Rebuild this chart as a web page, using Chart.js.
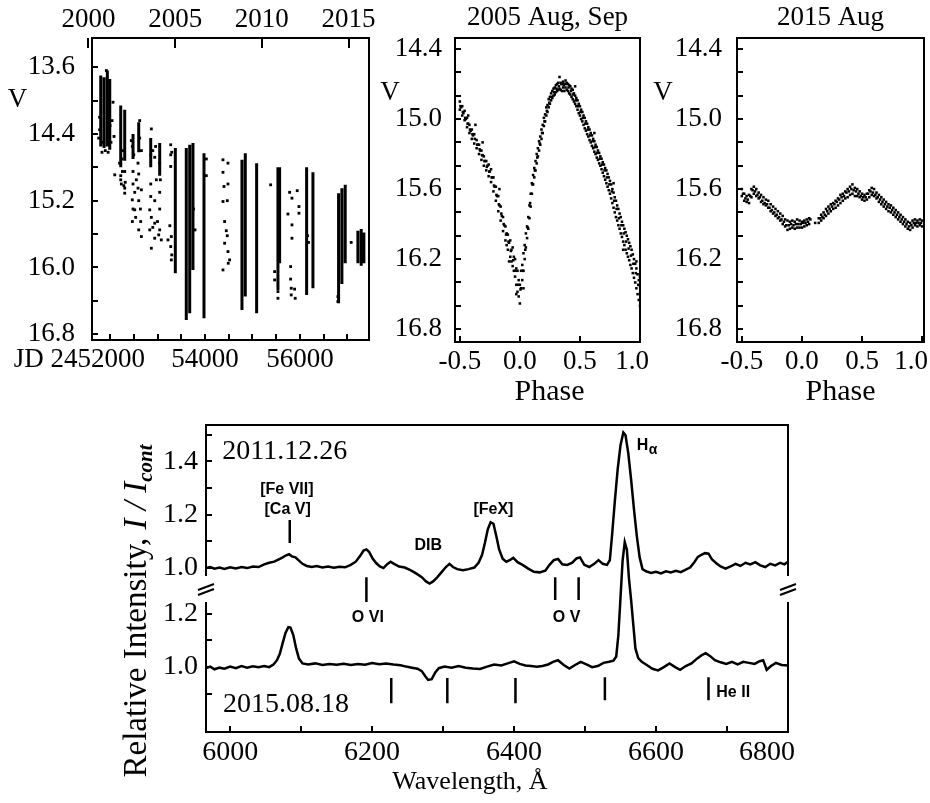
<!DOCTYPE html>
<html><head><meta charset="utf-8">
<script src="https://cdn.jsdelivr.net/npm/chart.js@4.4.1/dist/chart.umd.min.js"></script>
<style>
html,body{margin:0;background:#fff}
#fig{position:relative;width:930px;height:803px;overflow:hidden}
canvas{position:absolute}
</style></head><body>
<div id="fig">
<canvas id="gA" width="380" height="400" style="left:0;top:0;width:380px;height:400px"></canvas>
<canvas id="gB" width="270" height="400" style="left:380px;top:0;width:270px;height:400px"></canvas>
<canvas id="gC" width="280" height="400" style="left:650px;top:0;width:280px;height:400px"></canvas>
<canvas id="gD" width="930" height="393" style="left:0;top:410px;width:930px;height:393px"></canvas>
</div>
<script>
/* Courbe de lumière, courbes de phase et spectres — Chart.js */
var SERIF = '"Liberation Serif", "Times New Roman", serif';
var SANS = '"Liberation Sans", Arial, sans-serif';

// --- Courbe de lumière : JD - 2400000, V
var jdMin = 51620, jdMax = 57455;
var jdTicks = [52000, 52500, 53000, 53500, 54000, 54500, 55000, 55500, 56000, 56500, 57000];
var jdLabels = [54000, 56000];
var annees = [2000, 2005, 2010, 2015];
var anneesJD = [51544.5, 53371.5, 55197.5, 57023.5];
var vTicksA = [13.6, 14.0, 14.4, 14.8, 15.2, 15.6, 16.0, 16.4, 16.8];
var vLabelsA = [13.6, 14.4, 15.2, 16.0, 16.8];
// colonnes denses : [JD, V haut, V bas]
var saisons = [
  [51804, 13.70, 14.55], [51874, 13.72, 14.57], [51943, 13.64, 14.55], [51994, 13.74, 14.59],
  [52225, 14.06, 14.80], [52309, 14.11, 14.72], [52484, 14.40, 14.70], [52604, 14.26, 14.62],
  [52857, 14.45, 14.80], [53046, 14.51, 14.90], [53375, 14.57, 16.07], [53606, 14.57, 16.63],
  [53678, 14.53, 16.55], [53747, 14.51, 16.03], [53979, 14.63, 16.61], [54779, 14.71, 16.51],
  [54849, 14.63, 16.35], [55088, 14.75, 16.55], [55537, 14.80, 16.27], [55572, 14.80, 15.95],
  [56141, 14.80, 16.33], [56274, 14.86, 16.25], [56814, 15.11, 16.43], [56884, 15.05, 16.20],
  [56954, 15.01, 15.95], [57221, 15.56, 15.95], [57291, 15.54, 15.98], [57347, 15.58, 15.95]
];
// points isolés : [JD, V]
var pointsA = [
  [51922, 13.64], [52063, 14.02], [52042, 14.24], [52084, 14.43], [51780, 14.35], [51830, 14.62], [51960, 14.62], [52020, 14.50], [51900, 14.60],
  [51780, 14.20], [51760, 14.45], [51850, 14.50], [52000, 14.30],
  [52099, 14.89], [52238, 15.00], [52309, 15.11], [52225, 14.90], [52260, 14.85], [52309, 14.85], [52290, 15.02],
  [52225, 14.95], [52250, 14.70], [52280, 14.60], [52320, 14.98], [52309, 15.05], [52200, 14.75],
  [52469, 15.19], [52520, 15.31], [52646, 15.45], [52660, 15.63], [52625, 14.24], [52448, 14.48], [52589, 14.75], [52554, 14.95],
  [52660, 15.07], [52484, 14.85], [52484, 15.00], [52604, 15.20], [52604, 14.88], [52520, 15.10],
  [52469, 14.55], [52484, 15.30], [52500, 14.65], [52540, 15.40], [52589, 15.05], [52604, 15.55], [52625, 14.45], [52640, 15.30],
  [52470, 15.45], [52660, 14.60],
  [52870, 14.34], [52975, 14.95], [52836, 15.31], [52941, 15.47], [53025, 15.61], [52870, 15.77], [53080, 15.67], [52941, 14.68],
  [53046, 14.75], [52857, 15.00], [52857, 15.15], [52900, 15.52], [53046, 15.10], [53046, 15.30], [52941, 15.20],
  [52857, 14.65], [52870, 15.40], [52900, 14.60], [52941, 15.65], [52960, 14.55], [53000, 15.45], [53046, 15.55], [53060, 14.95], [52836, 15.55],
  [53278, 14.53], [53278, 14.79], [53291, 15.63], [53291, 15.91], [53221, 15.67], [53278, 15.75], [53300, 15.85],
  [53278, 14.65], [53260, 15.50], [53300, 14.62],
  [53760, 15.30], [53790, 15.55], [54028, 14.70], [54028, 14.90],
  [54379, 14.71], [54379, 14.86], [54400, 15.03], [54379, 15.21], [54414, 15.45], [54449, 15.56], [54414, 15.71], [54484, 15.81],
  [54519, 15.91], [54379, 16.03], [54484, 14.75], [54484, 15.00], [54470, 15.20], [54470, 15.62], [54490, 15.95],
  [55383, 15.01], [55537, 16.29], [55537, 16.37], [55467, 16.15], [55467, 16.05],
  [55783, 15.10], [55943, 15.08], [55832, 15.17], [55979, 15.27], [55979, 15.35], [55747, 15.36], [55832, 15.49], [55832, 15.65],
  [55804, 15.99], [55804, 16.14], [55817, 16.25], [55888, 16.26], [55817, 16.33], [55901, 16.37],
  [56160, 15.62], [56180, 15.70], [57080, 15.70], [56800, 16.41], [56800, 16.35]
];

// --- Courbes de phase
var phaseTicks = [-0.5, 0, 0.5, 1.0];
var vTicksP = [14.4, 14.6, 14.8, 15.0, 15.2, 15.4, 15.6, 15.8, 16.0, 16.2, 16.4, 16.6, 16.8];
var vLabelsP = [14.4, 15.0, 15.6, 16.2, 16.8];
var courbe2005 = [
  [-0.50, 14.85], [-0.50, 14.92], [-0.49, 14.90], [-0.48, 14.89], [-0.48, 14.97], [-0.47, 14.95], [-0.46, 14.93], [-0.46, 15.01],
  [-0.45, 15.00], [-0.44, 14.99], [-0.44, 15.07], [-0.43, 15.04], [-0.43, 14.97], [-0.42, 15.05], [-0.42, 15.12], [-0.41, 15.10],
  [-0.40, 15.09], [-0.40, 15.17], [-0.39, 15.14], [-0.38, 15.13], [-0.38, 15.21], [-0.37, 15.05], [-0.36, 15.18], [-0.36, 15.25],
  [-0.35, 15.22], [-0.34, 15.22], [-0.34, 15.30], [-0.33, 15.27], [-0.32, 15.27], [-0.32, 15.35], [-0.31, 15.31], [-0.30, 15.32],
  [-0.30, 15.40], [-0.29, 15.36], [-0.28, 15.36], [-0.28, 15.44], [-0.27, 15.40], [-0.26, 15.39], [-0.26, 15.49], [-0.25, 15.45],
  [-0.24, 15.43], [-0.24, 15.54], [-0.23, 15.50], [-0.22, 15.50], [-0.22, 15.62], [-0.21, 15.58], [-0.20, 15.58], [-0.20, 15.70],
  [-0.19, 15.66], [-0.18, 15.66], [-0.18, 15.79], [-0.17, 15.74], [-0.16, 15.75], [-0.16, 15.87], [-0.15, 15.83], [-0.14, 15.84],
  [-0.14, 15.96], [-0.13, 15.91], [-0.12, 15.92], [-0.12, 16.04], [-0.11, 15.98], [-0.11, 16.08], [-0.10, 15.99], [-0.10, 16.12],
  [-0.09, 16.06], [-0.08, 16.04], [-0.08, 16.18], [-0.07, 16.12], [-0.07, 16.22], [-0.06, 16.10], [-0.06, 16.26], [-0.05, 16.18],
  [-0.05, 16.30], [-0.04, 16.20], [-0.04, 16.35], [-0.03, 16.28], [-0.03, 16.42], [-0.02, 16.30], [-0.02, 16.48], [-0.01, 16.38],
  [-0.01, 16.52], [0.00, 16.42], [0.00, 16.58], [0.01, 16.30], [0.01, 16.45], [0.02, 16.25], [0.02, 16.38], [0.03, 16.15],
  [0.03, 16.30], [0.04, 16.08], [0.04, 16.20], [0.05, 15.98], [0.05, 16.10], [0.06, 15.92], [0.06, 16.02], [0.07, 15.84],
  [0.07, 15.94], [0.08, 15.74], [0.08, 15.85], [0.09, 15.64], [0.09, 15.75], [0.10, 15.55], [0.10, 15.64], [0.11, 15.48],
  [0.11, 15.56], [0.12, 15.42], [0.12, 15.50], [0.13, 15.36], [0.13, 15.44], [0.14, 15.30], [0.14, 15.38], [0.15, 15.25],
  [0.15, 15.32], [0.16, 15.19], [0.16, 15.27], [0.17, 15.15], [0.17, 15.22], [0.18, 15.09], [0.18, 15.17], [0.19, 15.05],
  [0.19, 15.12], [0.20, 14.99], [0.20, 15.06], [0.21, 14.96], [0.21, 15.02], [0.22, 14.90], [0.22, 14.97], [0.23, 14.88],
  [0.23, 14.94], [0.24, 14.83], [0.24, 14.90], [0.25, 14.81], [0.25, 14.87], [0.26, 14.78], [0.26, 14.84], [0.27, 14.76],
  [0.27, 14.82], [0.28, 14.74], [0.28, 14.80], [0.29, 14.73], [0.29, 14.79], [0.30, 14.71], [0.30, 14.77], [0.31, 14.70],
  [0.31, 14.76], [0.32, 14.69], [0.32, 14.75], [0.33, 14.64], [0.33, 14.74], [0.34, 14.69], [0.34, 14.75], [0.35, 14.70],
  [0.35, 14.76], [0.36, 14.68], [0.36, 14.73], [0.37, 14.70], [0.37, 14.76], [0.38, 14.67], [0.38, 14.73], [0.39, 14.69],
  [0.39, 14.75], [0.40, 14.70], [0.40, 14.76], [0.41, 14.71], [0.41, 14.78], [0.42, 14.72], [0.42, 14.79], [0.43, 14.74],
  [0.43, 14.81], [0.44, 14.75], [0.44, 14.83], [0.45, 14.78], [0.45, 14.85], [0.46, 14.80], [0.46, 14.87], [0.47, 14.82],
  [0.47, 14.89], [0.48, 14.84], [0.48, 14.92], [0.49, 14.87], [0.49, 14.95], [0.50, 14.89], [0.50, 14.97], [0.51, 14.92],
  [0.51, 15.00], [0.52, 14.94], [0.52, 15.02], [0.53, 14.97], [0.53, 15.05], [0.54, 14.99], [0.54, 15.08], [0.55, 15.02],
  [0.55, 15.10], [0.56, 15.04], [0.56, 15.13], [0.57, 15.07], [0.57, 15.15], [0.58, 15.09], [0.58, 15.18], [0.59, 15.12],
  [0.59, 15.20], [0.60, 15.14], [0.60, 15.23], [0.61, 15.17], [0.61, 15.25], [0.62, 15.19], [0.62, 15.28], [0.63, 15.22],
  [0.63, 15.30], [0.64, 15.24], [0.64, 15.33], [0.65, 15.27], [0.65, 15.35], [0.66, 15.29], [0.66, 15.38], [0.67, 15.32],
  [0.67, 15.40], [0.68, 15.34], [0.68, 15.43], [0.69, 15.37], [0.69, 15.46], [0.70, 15.39], [0.70, 15.49], [0.71, 15.42],
  [0.71, 15.52], [0.72, 15.44], [0.72, 15.55], [0.73, 15.47], [0.73, 15.58], [0.74, 15.50], [0.74, 15.61], [0.75, 15.53],
  [0.75, 15.64], [0.76, 15.56], [0.76, 15.68], [0.77, 15.60], [0.77, 15.72], [0.78, 15.63], [0.78, 15.76], [0.79, 15.67],
  [0.79, 15.80], [0.80, 15.70], [0.80, 15.84], [0.81, 15.74], [0.81, 15.87], [0.82, 15.77], [0.82, 15.91], [0.83, 15.81],
  [0.83, 15.94], [0.84, 15.84], [0.84, 15.98], [0.85, 15.88], [0.85, 16.01], [0.86, 15.91], [0.86, 16.05], [0.87, 15.94],
  [0.87, 16.08], [0.88, 15.97], [0.88, 16.12], [0.89, 16.00], [0.89, 16.15], [0.90, 16.03], [0.90, 16.18], [0.91, 16.06],
  [0.91, 16.21], [0.92, 16.09], [0.92, 16.25], [0.93, 16.12], [0.93, 16.28], [0.94, 16.16], [0.94, 16.32], [0.95, 16.20],
  [0.95, 16.36], [0.96, 16.24], [0.96, 16.40], [0.97, 16.28], [0.97, 16.45], [0.98, 16.33], [0.98, 16.50], [0.99, 16.38],
  [0.99, 16.55], [1.00, 16.43], [1.00, 16.60]
];
// milieu de la bande et points écartés (2005)
var milieu2005 = [
  [-0.495, 14.89], [-0.475, 14.94], [-0.455, 14.99], [-0.435, 15.04], [-0.415, 15.09], [-0.395, 15.13], [-0.375, 15.17], [-0.355, 15.22],
  [-0.335, 15.26], [-0.315, 15.31], [-0.295, 15.36], [-0.275, 15.41], [-0.255, 15.45], [-0.235, 15.50], [-0.215, 15.57], [-0.195, 15.65],
  [-0.175, 15.73], [-0.155, 15.81], [-0.135, 15.90], [-0.115, 15.99], [-0.095, 16.05], [-0.075, 16.13], [-0.055, 16.21], [-0.035, 16.30],
  [-0.015, 16.42], [0.005, 16.46], [0.025, 16.30], [0.045, 16.12], [0.065, 15.93], [0.085, 15.72], [0.105, 15.56], [0.125, 15.44],
  [0.145, 15.33], [0.165, 15.21], [0.185, 15.12], [0.205, 15.02], [0.225, 14.93], [0.245, 14.86], [0.265, 14.81], [0.285, 14.77],
  [0.305, 14.74], [0.325, 14.72], [0.345, 14.70], [0.365, 14.71], [0.385, 14.70], [0.405, 14.73], [0.425, 14.76], [0.445, 14.79],
  [0.465, 14.84], [0.485, 14.89], [0.505, 14.94], [0.525, 14.99], [0.545, 15.04], [0.565, 15.09], [0.585, 15.14], [0.605, 15.19],
  [0.625, 15.24], [0.645, 15.29], [0.665, 15.34], [0.685, 15.39], [0.705, 15.44], [0.725, 15.50], [0.745, 15.56], [0.765, 15.62],
  [0.785, 15.70], [0.805, 15.77], [0.825, 15.85], [0.845, 15.91], [0.865, 15.98], [0.885, 16.05], [0.905, 16.11], [0.925, 16.17],
  [0.945, 16.24], [0.965, 16.32], [0.985, 16.42],
  [-0.31, 15.20], [-0.17, 15.60], [-0.09, 16.22], [-0.03, 16.50], [0.03, 16.45], [0.46, 14.72], [0.62, 15.12], [0.78, 15.55],
  [0.86, 16.12], [0.97, 16.22], [1.00, 16.35]
];
var courbe2015 = [
  [-0.50, 15.60], [-0.50, 15.66], [-0.48, 15.64], [-0.48, 15.70], [-0.46, 15.66], [-0.46, 15.71], [-0.44, 15.65], [-0.44, 15.72],
  [-0.42, 15.60], [-0.42, 15.67], [-0.40, 15.58], [-0.40, 15.64], [-0.38, 15.60], [-0.38, 15.66], [-0.36, 15.63], [-0.36, 15.68],
  [-0.34, 15.65], [-0.34, 15.71], [-0.32, 15.67], [-0.32, 15.73], [-0.30, 15.69], [-0.30, 15.74], [-0.28, 15.70], [-0.28, 15.76],
  [-0.26, 15.73], [-0.26, 15.79], [-0.24, 15.75], [-0.24, 15.81], [-0.22, 15.77], [-0.22, 15.83], [-0.20, 15.79], [-0.20, 15.85],
  [-0.18, 15.81], [-0.18, 15.87], [-0.16, 15.83], [-0.16, 15.90], [-0.14, 15.86], [-0.14, 15.92], [-0.12, 15.87], [-0.12, 15.95],
  [-0.10, 15.88], [-0.10, 15.94], [-0.08, 15.87], [-0.08, 15.93], [-0.06, 15.88], [-0.06, 15.94], [-0.04, 15.86], [-0.04, 15.93],
  [-0.02, 15.87], [-0.02, 15.93], [0.00, 15.88], [0.00, 15.93], [0.02, 15.87], [0.02, 15.92], [0.04, 15.86], [0.04, 15.91],
  [0.06, 15.85], [0.06, 15.90], [0.11, 15.89], [0.14, 15.85], [0.14, 15.89], [0.16, 15.82], [0.16, 15.87], [0.18, 15.80],
  [0.18, 15.85], [0.20, 15.77], [0.20, 15.83], [0.22, 15.75], [0.22, 15.81], [0.24, 15.73], [0.24, 15.79], [0.26, 15.72],
  [0.26, 15.77], [0.28, 15.70], [0.28, 15.76], [0.30, 15.68], [0.30, 15.74], [0.32, 15.65], [0.32, 15.72], [0.34, 15.64],
  [0.34, 15.70], [0.36, 15.62], [0.36, 15.68], [0.38, 15.60], [0.38, 15.67], [0.40, 15.58], [0.40, 15.65], [0.42, 15.56],
  [0.42, 15.64], [0.44, 15.59], [0.44, 15.66], [0.46, 15.60], [0.46, 15.66], [0.48, 15.62], [0.48, 15.67], [0.50, 15.64],
  [0.50, 15.69], [0.52, 15.65], [0.52, 15.70], [0.54, 15.64], [0.54, 15.69], [0.56, 15.61], [0.56, 15.67], [0.58, 15.59],
  [0.58, 15.65], [0.60, 15.60], [0.60, 15.66], [0.62, 15.63], [0.62, 15.68], [0.64, 15.65], [0.64, 15.71], [0.66, 15.67],
  [0.66, 15.73], [0.68, 15.69], [0.68, 15.75], [0.70, 15.71], [0.70, 15.77], [0.72, 15.73], [0.72, 15.79], [0.74, 15.74],
  [0.74, 15.80], [0.76, 15.76], [0.76, 15.82], [0.78, 15.78], [0.78, 15.84], [0.80, 15.80], [0.80, 15.86], [0.82, 15.82],
  [0.82, 15.88], [0.84, 15.84], [0.84, 15.90], [0.86, 15.86], [0.86, 15.92], [0.88, 15.88], [0.88, 15.94], [0.90, 15.89],
  [0.90, 15.95], [0.92, 15.87], [0.92, 15.93], [0.94, 15.86], [0.94, 15.91], [0.96, 15.87], [0.96, 15.92], [0.98, 15.86],
  [0.98, 15.91], [1.00, 15.87], [1.00, 15.92]
];
var milieu2015 = [
  [-0.49, 15.64], [-0.47, 15.68], [-0.45, 15.69], [-0.43, 15.66], [-0.41, 15.61], [-0.39, 15.62], [-0.37, 15.65], [-0.35, 15.67],
  [-0.33, 15.70], [-0.31, 15.72], [-0.29, 15.73], [-0.27, 15.76], [-0.25, 15.78], [-0.23, 15.80], [-0.21, 15.82], [-0.19, 15.84],
  [-0.17, 15.86], [-0.15, 15.88], [-0.13, 15.91], [-0.11, 15.91], [-0.09, 15.90], [-0.07, 15.91], [-0.05, 15.90], [-0.03, 15.90],
  [-0.01, 15.90], [0.01, 15.89], [0.03, 15.89], [0.05, 15.88], [0.07, 15.86], [0.15, 15.85], [0.17, 15.84], [0.19, 15.82],
  [0.21, 15.79], [0.23, 15.77], [0.25, 15.75], [0.27, 15.73], [0.29, 15.71], [0.31, 15.69], [0.33, 15.67], [0.35, 15.66],
  [0.37, 15.63], [0.39, 15.62], [0.41, 15.60], [0.43, 15.61], [0.45, 15.62], [0.47, 15.64], [0.49, 15.66], [0.51, 15.67],
  [0.53, 15.67], [0.55, 15.64], [0.57, 15.62], [0.59, 15.63], [0.61, 15.65], [0.63, 15.67], [0.65, 15.69], [0.67, 15.71],
  [0.69, 15.73], [0.71, 15.75], [0.73, 15.76], [0.75, 15.78], [0.77, 15.80], [0.79, 15.82], [0.81, 15.84], [0.83, 15.86],
  [0.85, 15.88], [0.87, 15.90], [0.89, 15.92], [0.91, 15.91], [0.93, 15.89], [0.95, 15.89], [0.97, 15.89], [0.99, 15.89]
];

// --- Spectres : [longueur d'onde Å, I / Icont]
var DECALAGE = 0.371;          // décalage vertical du spectre 2011
var COUPURE = [1.244, 1.341];   // interruption de l'axe
var lamTicks = [6000, 6100, 6200, 6300, 6400, 6500, 6600, 6700];
var lamLabels = [6000, 6200, 6400, 6600];
var iTicksBas = [0.9, 1.0, 1.1, 1.2];
var iLabelsBas = [1.0, 1.2];
var iTicksHaut = [1.0, 1.1, 1.2, 1.3, 1.4, 1.5];
var iLabelsHaut = [1.0, 1.2, 1.4];
var spec2011 = [
  [5966, 1.000], [5972, 1.004], [5978, 0.998], [5985, 1.002], [5992, 0.997], [6000, 1.003], [6008, 0.999], [6016, 1.004],
  [6024, 1.000], [6032, 1.006], [6040, 1.004], [6048, 1.014], [6055, 1.020], [6062, 1.024], [6068, 1.032], [6074, 1.040],
  [6079, 1.048], [6083, 1.052], [6087, 1.044], [6092, 1.040], [6097, 1.028], [6102, 1.016], [6108, 1.008], [6115, 1.004],
  [6122, 1.008], [6130, 1.002], [6138, 1.006], [6146, 1.001], [6154, 1.005], [6162, 1.003], [6170, 1.012], [6177, 1.024],
  [6183, 1.045], [6188, 1.066], [6192, 1.070], [6196, 1.060], [6201, 1.035], [6206, 1.018], [6211, 1.006], [6216, 1.000],
  [6221, 1.014], [6226, 1.024], [6231, 1.016], [6238, 1.006], [6246, 1.002], [6254, 0.992], [6262, 0.980], [6270, 0.966],
  [6276, 0.950], [6281, 0.942], [6286, 0.950], [6292, 0.966], [6298, 0.985], [6304, 1.004], [6309, 1.016], [6314, 1.004],
  [6320, 0.996], [6328, 0.992], [6336, 0.996], [6344, 1.002], [6350, 1.020], [6355, 1.050], [6359, 1.095], [6363, 1.145],
  [6367, 1.172], [6371, 1.166], [6375, 1.120], [6379, 1.070], [6384, 1.035], [6389, 1.024], [6394, 1.030], [6399, 1.038],
  [6405, 1.022], [6412, 1.012], [6420, 0.998], [6428, 0.986], [6436, 0.984], [6444, 0.990], [6450, 1.012], [6456, 1.030],
  [6462, 1.034], [6468, 1.014], [6475, 1.012], [6482, 1.020], [6488, 1.036], [6493, 1.040], [6499, 1.012], [6506, 1.004],
  [6513, 1.016], [6519, 1.030], [6525, 1.016], [6531, 1.012], [6535, 1.030], [6538, 1.120], [6542, 1.250], [6546, 1.370],
  [6550, 1.460], [6554, 1.508], [6557, 1.498], [6561, 1.430], [6565, 1.330], [6569, 1.220], [6573, 1.120], [6577, 1.040],
  [6581, 0.996], [6586, 0.988], [6593, 0.982], [6600, 0.986], [6607, 0.980], [6614, 0.988], [6621, 0.984], [6628, 0.990],
  [6635, 0.985], [6642, 0.994], [6648, 1.002], [6654, 1.022], [6659, 1.042], [6664, 1.050], [6669, 1.056], [6674, 1.054],
  [6679, 1.032], [6685, 1.018], [6691, 1.006], [6698, 0.998], [6705, 1.006], [6712, 1.016], [6719, 1.008], [6726, 1.020],
  [6733, 1.014], [6740, 1.022], [6747, 1.010], [6754, 1.004], [6761, 1.016], [6768, 1.010], [6775, 1.020], [6781, 1.014],
  [6786, 1.024]
];
var spec2015 = [
  [5966, 0.996], [5972, 1.002], [5978, 0.992], [5985, 0.998], [5992, 0.994], [6000, 1.002], [6008, 0.996], [6016, 1.004],
  [6024, 0.998], [6032, 1.003], [6040, 1.000], [6048, 1.004], [6055, 1.000], [6061, 1.010], [6066, 1.026], [6070, 1.050],
  [6074, 1.090], [6078, 1.128], [6082, 1.150], [6085, 1.148], [6089, 1.120], [6093, 1.070], [6097, 1.032], [6102, 1.014],
  [6110, 1.010], [6120, 1.014], [6130, 1.008], [6140, 1.012], [6150, 1.009], [6160, 1.013], [6170, 1.008], [6180, 1.012],
  [6190, 1.009], [6200, 1.015], [6210, 1.011], [6220, 1.014], [6230, 1.010], [6240, 1.007], [6248, 1.002], [6256, 0.998],
  [6264, 0.994], [6270, 0.985], [6275, 0.966], [6279, 0.952], [6284, 0.955], [6289, 0.980], [6294, 0.996], [6302, 1.002],
  [6312, 0.998], [6322, 1.004], [6332, 0.998], [6342, 0.995], [6352, 0.993], [6362, 1.002], [6372, 1.010], [6382, 1.006],
  [6391, 1.014], [6400, 1.022], [6408, 1.012], [6416, 1.006], [6424, 1.004], [6432, 1.001], [6440, 1.004], [6448, 1.010],
  [6455, 1.020], [6462, 1.026], [6470, 1.008], [6478, 0.995], [6486, 1.008], [6494, 1.020], [6502, 1.010], [6510, 1.000],
  [6518, 1.004], [6526, 1.016], [6534, 1.020], [6540, 1.024], [6544, 1.040], [6547, 1.120], [6550, 1.260], [6553, 1.400],
  [6556, 1.468], [6559, 1.440], [6562, 1.330], [6565, 1.250], [6568, 1.160], [6571, 1.070], [6575, 1.034], [6580, 1.020],
  [6587, 1.008], [6595, 0.994], [6603, 0.988], [6611, 1.000], [6619, 1.014], [6627, 1.000], [6634, 0.990], [6642, 1.004],
  [6650, 1.014], [6657, 1.030], [6664, 1.044], [6670, 1.052], [6676, 1.042], [6683, 1.026], [6691, 1.018], [6699, 1.012],
  [6707, 1.020], [6715, 1.010], [6723, 1.020], [6731, 1.016], [6739, 1.012], [6746, 1.022], [6751, 1.026], [6756, 0.990],
  [6762, 1.004], [6769, 1.016], [6777, 1.008], [6786, 1.006]
];
// repères des raies : [Å, haut, bas] en coordonnées de l'axe
var raies = [
  [6084, 1.551, 1.465], [6192, 1.337, 1.244], [6458, 1.337, 1.251], [6491, 1.337, 1.251],
  [6227, 0.959, 0.865], [6306, 0.959, 0.865], [6402, 0.959, 0.865], [6528, 0.962, 0.876], [6674, 0.962, 0.876]
];
// étiquettes : [texte, Å, valeur d'axe, style, alignement]
var etiquettes = [
  ["2011.12.26", 5989, 1.806, "date", "left"], ["2015.08.18", 5990, 0.858, "date", "left"],
  ["[Fe VII]", 6080, 1.664, "gras", "center"], ["[Ca V]", 6081, 1.589, "gras", "center"],
  ["DIB", 6279, 1.457, "gras", "center"], ["[FeX]", 6371, 1.589, "gras", "center"],
  ["O VI", 6194, 1.184, "gras", "center"], ["O V", 6474, 1.184, "gras", "center"],
  ["He II", 6685, 0.906, "gras", "left"]
];

Chart.defaults.color = "#000";
Chart.defaults.font.family = SERIF;

function $(id) { return document.getElementById(id); }
function dans(liste, v) { return liste.some(function (w) { return Math.abs(w - v) < 1e-6; }); }
function xy(p) { return { x: p[0], y: p[1] }; }

function axe(pos, taille, min, max, valeurs, etiquette, fs, pad, tl, inverse) {
  return {
    type: "linear", position: pos, min: min, max: max, reverse: !!inverse,
    border: { display: false },
    grid: { display: true, drawOnChartArea: false, drawTicks: true, tickLength: tl, lineWidth: 2, color: "#000" },
    ticks: { color: "#000", font: { family: SERIF, size: fs }, padding: pad, autoSkip: false, maxRotation: 0, minRotation: 0,
      callback: function (v, i) { return etiquette(v, i); } },
    afterBuildTicks: function (s) { s.ticks = valeurs.map(function (v) { return { value: v }; }); },
    afterFit: function (s) {
      if (s.isHorizontal()) s.height = taille; else s.width = taille;
      s.paddingLeft = s.paddingRight = s.paddingTop = s.paddingBottom = 0;
    }
  };
}

function ecrire(ctx, t, x, y, police, align, base) {
  ctx.save(); ctx.font = police; ctx.fillStyle = "#000";
  ctx.textAlign = align || "center"; ctx.textBaseline = base || "middle";
  ctx.fillText(t, x, y); ctx.restore();
}
function cadre(ctx, a) {
  ctx.save(); ctx.strokeStyle = "#000"; ctx.lineWidth = 2;
  ctx.strokeRect(a.left, a.top, a.right - a.left, a.bottom - a.top); ctx.restore();
}
function base(pad) {
  return { responsive: false, animation: false, devicePixelRatio: 1, layout: { padding: pad },
    plugins: { legend: { display: false }, tooltip: { enabled: false } } };
}

// ---------- Courbe de lumière
(function () {
  var seg = [];
  saisons.forEach(function (s) { seg.push({ x: s[0], y: s[1] }, { x: s[0], y: s[2] }, { x: s[0], y: null }); });
  var o = base({ left: 0, top: 0, right: 11, bottom: 0 });
  o.scales = {
    x: axe("bottom", 60, jdMin, jdMax, jdTicks, function (v) { return dans(jdLabels, v) ? String(v) : ""; }, 27, 9.8, -6),
    xt: axe("top", 38, jdMin, jdMax, anneesJD, function (v, i) { return String(annees[i]); }, 27, 11.5, -10),
    y: axe("left", 92, 13.25, 16.87, vTicksA, function (v) { return dans(vLabelsA, v) ? v.toFixed(1) : ""; }, 27, 23, -6, true)
  };
  new Chart($("gA"), {
    type: "scatter",
    data: { datasets: [
      { data: seg, showLine: true, spanGaps: false, borderColor: "#000", borderWidth: 3, pointRadius: 0, xAxisID: "x", yAxisID: "y" },
      { data: pointsA.map(xy), pointStyle: "rect", pointRadius: 2, backgroundColor: "#000", borderWidth: 0, xAxisID: "x", yAxisID: "y" }
    ] },
    options: o,
    plugins: [{ id: "decoA", afterDraw: function (c) {
      var a = c.chartArea, ctx = c.ctx;
      cadre(ctx, a);
      ecrire(ctx, "V", a.left - 74.5, 107, "27px " + SERIF, "center", "alphabetic");
      ecrire(ctx, "JD 2452000", c.scales.x.getPixelForValue(52000) + 35, a.bottom + 20, "27px " + SERIF, "right");
    } }]
  });
})();

// ---------- Courbes de phase
function phase(id, donnees, milieu, titre, decPhase, decLast) {
  var o = base({ left: 0, top: 38, right: id === "gB" ? 10 : 6, bottom: 0 });
  o.scales = {
    x: axe("bottom", 58, -0.54, id === "gB" ? 1.0 : 1.015, phaseTicks, function (v) { return v === 1 ? "" : v.toFixed(1); }, 27, 9.8, -6),
    y: axe("left", id === "gB" ? 75 : 87, 14.306, 16.91, vTicksP, function (v) { return dans(vLabelsP, v) ? v.toFixed(1) : ""; }, 27, id === "gB" ? 19 : 21, -6, true)
  };
  var pt = { pointStyle: "rect", pointRadius: 1.8, backgroundColor: "#000", borderWidth: 0 };
  new Chart($(id), {
    type: "scatter",
    data: { datasets: [
      Object.assign({ data: donnees.map(xy) }, pt),
      Object.assign({ data: milieu.map(xy) }, pt)
    ] },
    options: o,
    plugins: [{ id: "deco" + id, afterDraw: function (c) {
      var a = c.chartArea, ctx = c.ctx, m = (a.left + a.right) / 2;
      cadre(ctx, a);
      ecrire(ctx, titre, m, 25, "27px " + SERIF, "center", "alphabetic");
      ecrire(ctx, "V", id === "gB" ? a.left - 65 : a.left - 74, 100, "27px " + SERIF, "center", "alphabetic");
      ecrire(ctx, "Phase", m + decPhase, 400, "30px " + SERIF, "center", "alphabetic");
      ecrire(ctx, "1.0", c.scales.x.getPixelForValue(1.0) - decLast, a.bottom + 20, "27px " + SERIF);
    } }]
  });
}
phase("gB", courbe2005, milieu2005, "2005 Aug, Sep", 2, 8);
phase("gC", courbe2015, milieu2015, "2015 Aug", 10, 11);

// ---------- Spectres
(function () {
  var rep = [];
  raies.forEach(function (r) { rep.push({ x: r[0], y: r[1] }, { x: r[0], y: r[2] }, { x: r[0], y: null }); });
  var yTicks = iTicksBas.concat(iTicksHaut.map(function (v) { return v + DECALAGE; }));
  var o = base({ left: 0, top: 15, right: 142, bottom: 0 });
  o.scales = {
    x: axe("bottom", 71, 5966, 6786, lamTicks, function (v) { return dans(lamLabels, v) ? String(v) : ""; }, 28, 10.2, -6),
    y: axe("left", 206, 0.757, 1.907, yTicks, function (v) {
      if (v < 1.3) return dans(iLabelsBas, v) ? v.toFixed(1) : "";
      return dans(iLabelsHaut, v - DECALAGE) ? (v - DECALAGE).toFixed(1) : "";
    }, 28, 14, -6)
  };
  var trait = { borderColor: "#000", borderWidth: 2.5, pointRadius: 0, tension: 0, spanGaps: false };
  new Chart($("gD"), {
    type: "line",
    data: { datasets: [
      Object.assign({ data: spec2011.map(function (p) { return { x: p[0], y: p[1] + DECALAGE }; }) }, trait),
      Object.assign({ data: spec2015.map(xy) }, trait),
      Object.assign({ data: rep }, trait)
    ] },
    options: o,
    plugins: [{ id: "decoD", afterDraw: function (c) {
      var a = c.chartArea, ctx = c.ctx, sx = c.scales.x, sy = c.scales.y;
      var yb = sy.getPixelForValue(COUPURE[0]), yh = sy.getPixelForValue(COUPURE[1]), ym = (yb + yh) / 2;
      ctx.save(); ctx.strokeStyle = "#000"; ctx.lineWidth = 2;
      ctx.beginPath();
      ctx.moveTo(a.left, yh); ctx.lineTo(a.left, a.top); ctx.lineTo(a.right, a.top); ctx.lineTo(a.right, yh);
      ctx.moveTo(a.left, yb); ctx.lineTo(a.left, a.bottom); ctx.lineTo(a.right, a.bottom); ctx.lineTo(a.right, yb);
      ctx.stroke();
      [a.left, a.right].forEach(function (x) {
        ctx.beginPath();
        ctx.moveTo(x - 8, ym + 1); ctx.lineTo(x + 8, ym - 5);
        ctx.moveTo(x - 8, ym + 6); ctx.lineTo(x + 8, ym);
        ctx.stroke();
      });
      ctx.restore();
      var polices = { date: "28px " + SERIF, gras: "bold 16px " + SANS };
      etiquettes.forEach(function (e) {
        ecrire(ctx, e[0], sx.getPixelForValue(e[1]), sy.getPixelForValue(e[2]), polices[e[3]], e[4]);
      });
      // H alpha
      var hx = sx.getPixelForValue(6573), hy = sy.getPixelForValue(1.829);
      ecrire(ctx, "H", hx, hy, "bold 16px " + SANS, "left");
      ecrire(ctx, "α", hx + 12, hy + 4, "bold 14px " + SANS, "left");
      ecrire(ctx, "6800", a.right - 21, a.bottom + 21, "28px " + SERIF);
      // titres des axes
      ecrire(ctx, "Wavelength, Å", 470, 379, "26px " + SERIF, "center", "alphabetic");
      var parts = [["Relative Intensity, ", "33px " + SERIF, 0], ["I / I", "italic 33px " + SERIF, 0], ["cont", "italic bold 21px " + SERIF, 6]];
      ctx.save(); ctx.translate(146, 201); ctx.rotate(-Math.PI / 2);
      var tot = 0;
      parts.forEach(function (p) { ctx.font = p[1]; tot += ctx.measureText(p[0]).width; });
      var x = -tot / 2;
      parts.forEach(function (p) {
        ctx.font = p[1]; ctx.fillStyle = "#000"; ctx.textBaseline = "alphabetic"; ctx.textAlign = "left";
        ctx.fillText(p[0], x, p[2]); x += ctx.measureText(p[0]).width;
      });
      ctx.restore();
    } }]
  });
})();
</script>
</body></html>
